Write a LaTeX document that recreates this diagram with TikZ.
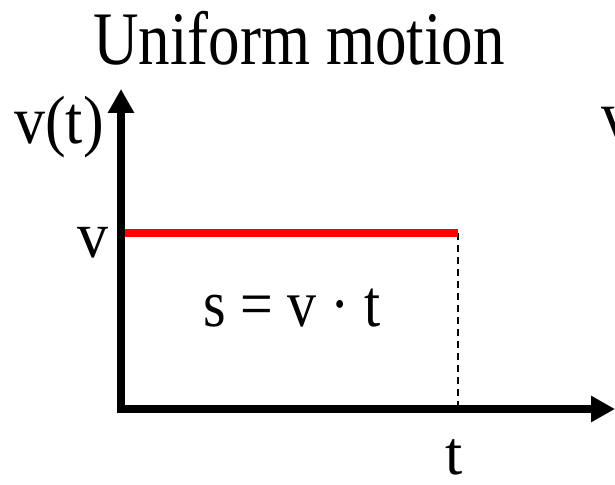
\documentclass[tikz,border=0pt]{standalone}
\usepackage{fontspec}
\setmainfont{Liberation Serif}
\usetikzlibrary{arrows.meta}
\newcommand\vstretch[2]{\scalebox{1}[#1]{#2}}
\begin{document}
\begin{tikzpicture}[x=1pt,y=-1pt,
  lbl/.style={inner sep=0pt, anchor=base, text depth=0pt, font=\fontsize{62}{70}\selectfont},
  axis/.style={line width=8pt, -{Triangle[length=24pt,width=25pt]}},
  redline/.style={line width=8pt, draw={rgb,255:red,255;green,0;blue,0}},
  guide/.style={line width=1.5pt, dash pattern=on 7pt off 5pt}]
\useasboundingbox (0,0) rectangle (615,484);
% axes
\coordinate (ytip) at (121,89);
\coordinate (xtip) at (615,409);
\coordinate (xstart) at (117,409);
\coordinate (ystart) at (121,413);
\draw[axis] (ystart) -- (ytip);
\draw[axis] (xstart) -- (xtip);
% red line and guide
\coordinate (r0) at (125,233);
\coordinate (r1) at (458,233);
\coordinate (d1) at (458,409);
\draw[guide] (r1) -- (d1);
\draw[redline] (r0) -- (r1);
% labels
\node[lbl, font=\fontsize{63}{70}\selectfont] (title) at (299,65) {\vstretch{1.2}{Uniform motion}};
\node[lbl] (vt) at (59,143) {\vstretch{1.1}{v(t)}};
\node[lbl] (v) at (93,257) {\vstretch{1.06}{v}};
\node[lbl] (t) at (454,474) {t};
\node[lbl, font=\fontsize{58}{66}\selectfont] (s) at (292,326) {\vstretch{1.15}{s = v · t}};
\node[lbl, anchor=base west] (vt2) at (601,138) {\vstretch{1.1}{v(t)}};
\end{tikzpicture}
\end{document}
